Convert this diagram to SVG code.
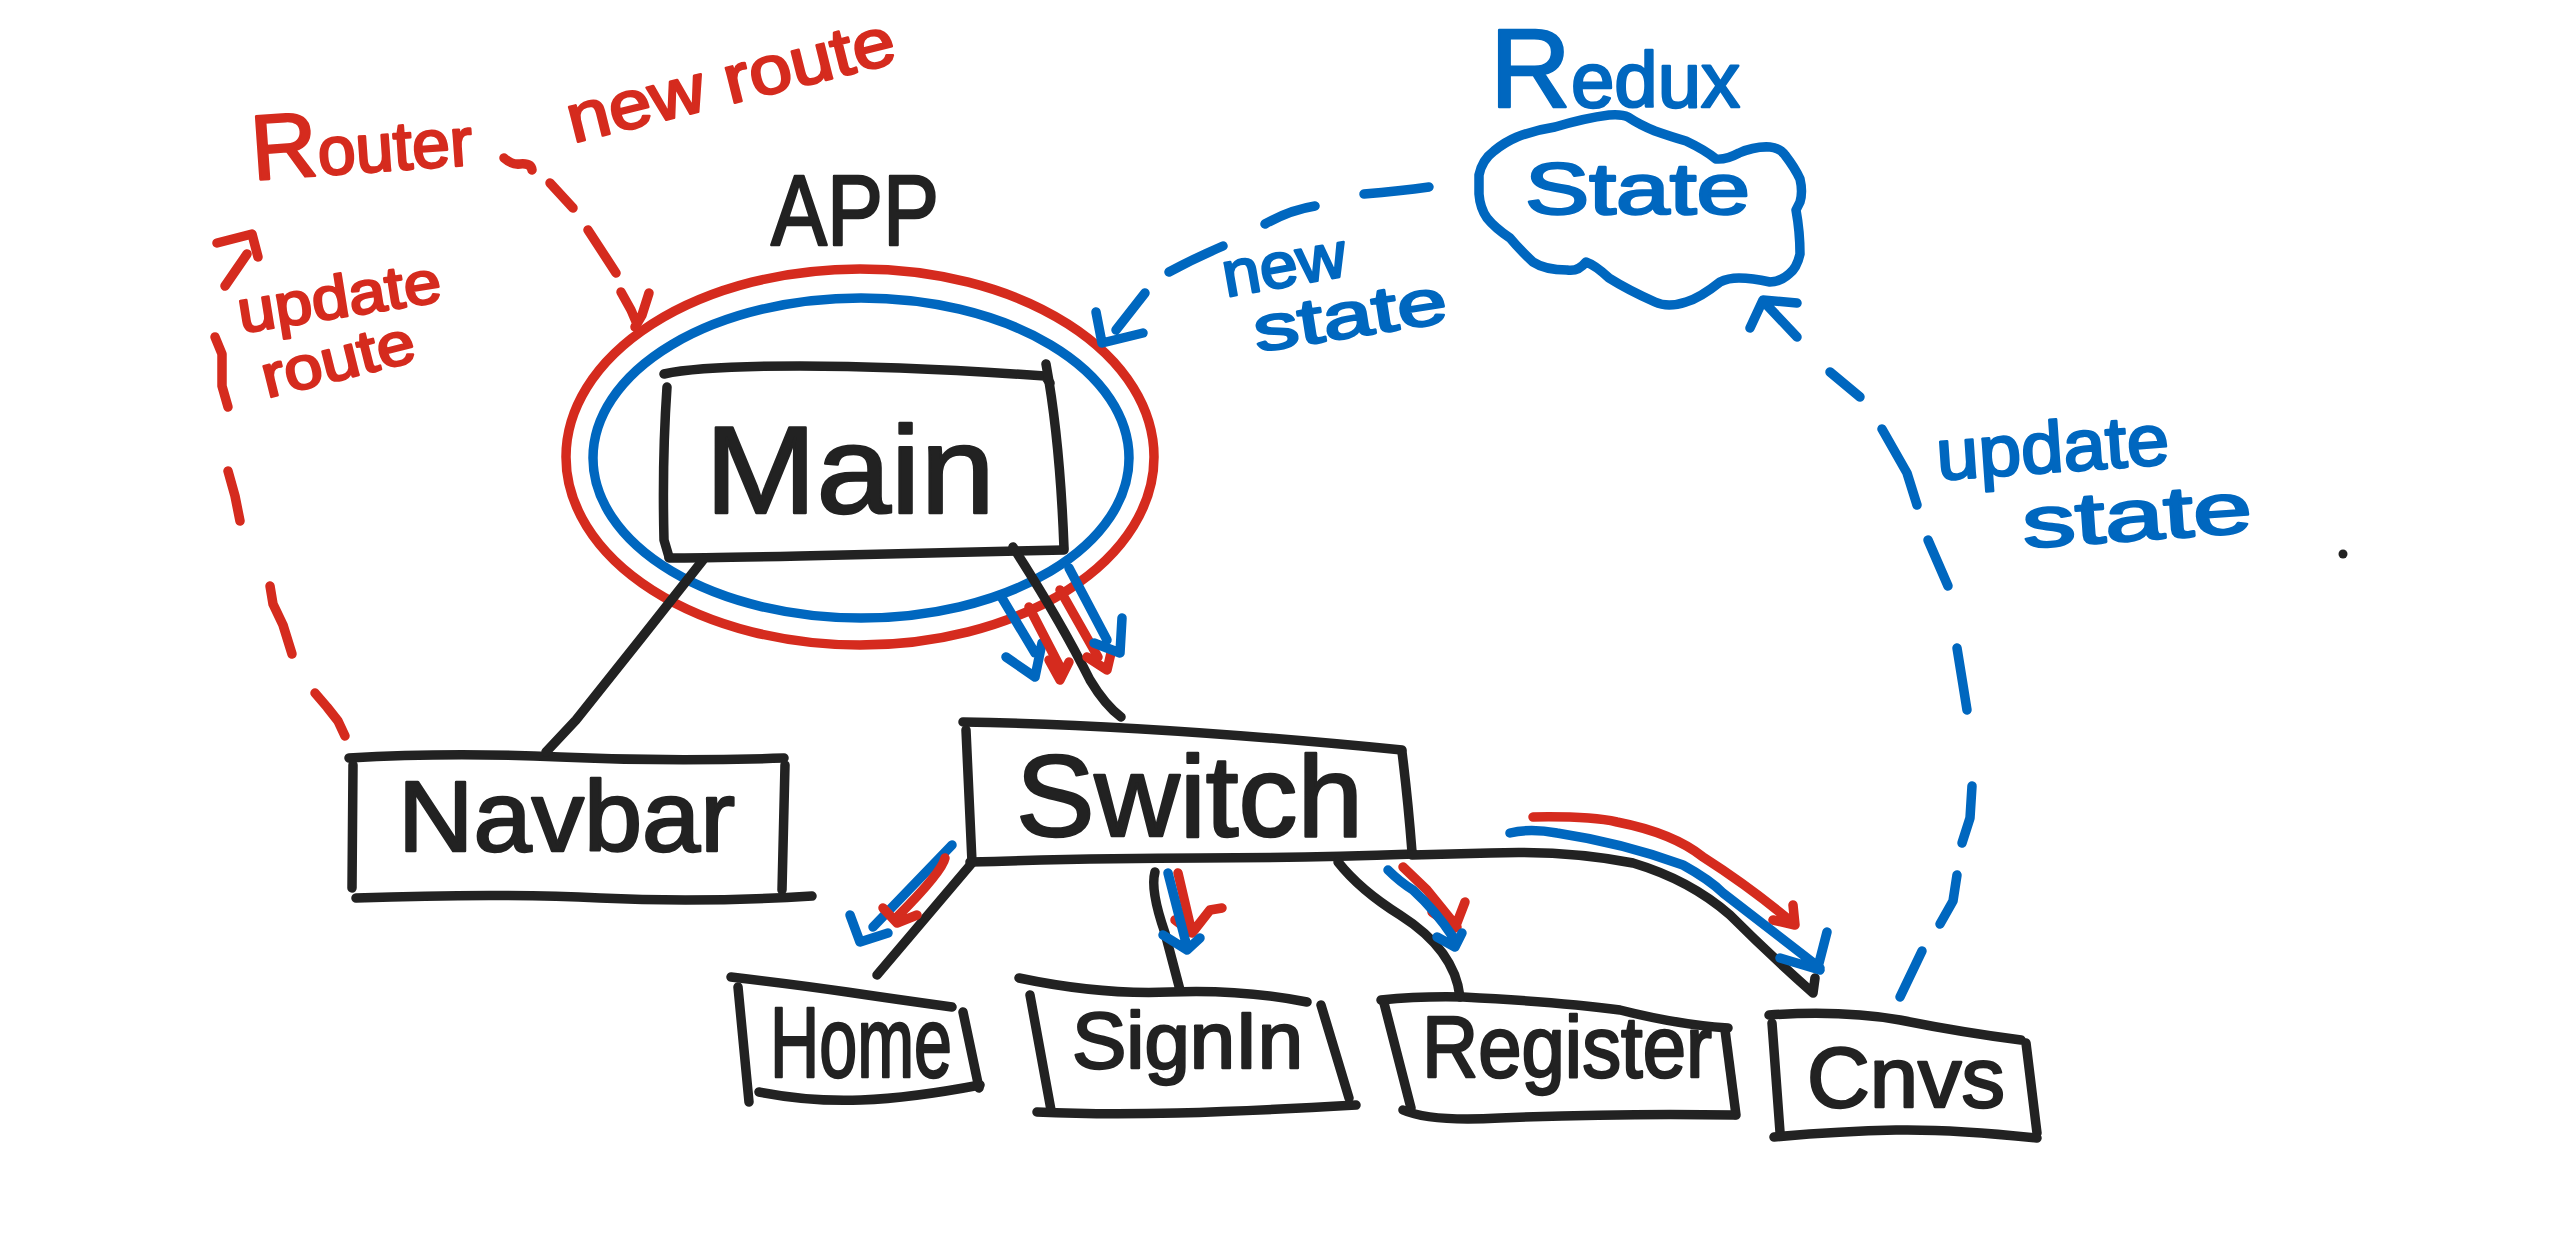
<svg xmlns="http://www.w3.org/2000/svg" width="2560" height="1246" viewBox="0 0 2560 1246">
<style>
.s{fill:none;stroke-width:9.5;stroke-linecap:round;stroke-linejoin:round}
.k{stroke:#222}
.r{stroke:#d52b1e}
.b{stroke:#0067bf}
.t{font-family:"Liberation Sans",Arial,sans-serif;stroke-width:2.5;stroke-linejoin:round}
.tk{fill:#222;stroke:#222}
.tr{fill:#d52b1e;stroke:#d52b1e}
.tb{fill:#0067bf;stroke:#0067bf}
</style>
<rect width="2560" height="1246" fill="#fff"/>

<g id="app">
  <ellipse class="s r" cx="860" cy="457" rx="294" ry="188"/>
  <ellipse class="s b" cx="861" cy="458" rx="268" ry="160"/>
  <text class="t tk" x="771" y="245" font-size="100" textLength="168" lengthAdjust="spacingAndGlyphs">APP</text>
</g>

<g id="main">
  <path class="s k" d="M664,374 Q700,366 800,366 T1045,376 L1050,383"/>
  <path class="s k" d="M1046,364 Q1060,440 1064,548"/>
  <path class="s k" d="M1064,550 Q900,554 800,556 T669,558"/>
  <path class="s k" d="M667,387 Q662,460 664,540 L669,557"/>
  <text class="t tk" x="705" y="513" font-size="125" textLength="290" lengthAdjust="spacingAndGlyphs">Main</text>
</g>

<g id="navbar">
  <path class="s k" d="M349,758 Q450,752 560,757 T784,758"/>
  <path class="s k" d="M353,765 L352,888"/>
  <path class="s k" d="M785,765 L782,890"/>
  <path class="s k" d="M356,898 Q500,893 600,898 T812,896"/>
  <text class="t tk" x="398" y="851" font-size="100" textLength="337" lengthAdjust="spacingAndGlyphs">Navbar</text>
</g>

<g id="switch">
  <path class="s k" d="M963,722 C1100,724 1250,735 1402,750"/>
  <path class="s k" d="M966,730 L972,862"/>
  <path class="s k" d="M1402,752 Q1408,800 1412,852"/>
  <path class="s k" d="M970,862 Q1100,858 1200,858 T1414,854"/>
  <text class="t tk" x="1016" y="836" font-size="115" textLength="347" lengthAdjust="spacingAndGlyphs">Switch</text>
</g>

<g id="home">
  <path class="s k" d="M731,977 Q800,985 847,992 T952,1007"/>
  <path class="s k" d="M738,987 L749,1102"/>
  <path class="s k" d="M963,1012 L979,1088"/>
  <path class="s k" d="M759,1092 Q810,1102 861,1100 T980,1085"/>
  <text class="t tk" x="770" y="1077" font-size="100" textLength="182" lengthAdjust="spacingAndGlyphs">Home</text>
</g>

<g id="signin">
  <path class="s k" d="M1019,978 Q1100,995 1170,992 T1307,1002"/>
  <path class="s k" d="M1030,995 L1051,1110"/>
  <path class="s k" d="M1321,1005 L1349,1098"/>
  <path class="s k" d="M1037,1112 Q1100,1115 1177,1113 T1356,1105"/>
  <text class="t tk" x="1072" y="1068" font-size="80" textLength="231" lengthAdjust="spacingAndGlyphs">SignIn</text>
</g>

<g id="register">
  <path class="s k" d="M1381,1000 Q1420,996 1463,997 Q1560,1002 1620,1010 Q1680,1025 1728,1028"/>
  <path class="s k" d="M1384,1003 L1411,1108"/>
  <path class="s k" d="M1725,1030 L1736,1115"/>
  <path class="s k" d="M1403,1110 Q1430,1122 1500,1118 Q1625,1113 1734,1115"/>
  <text class="t tk" x="1422" y="1077" font-size="88" textLength="290" lengthAdjust="spacingAndGlyphs">Register</text>
</g>

<g id="canvas">
  <path class="s k" d="M1769,1015 Q1842,1010 1900,1020 Q1960,1032 2021,1040"/>
  <path class="s k" d="M1772,1023 L1780,1132"/>
  <path class="s k" d="M2026,1043 L2037,1133"/>
  <path class="s k" d="M1774,1137 Q1840,1131 1896,1130 T2037,1138"/>
  <text class="t tk" x="1807" y="1107" font-size="86" textLength="198" lengthAdjust="spacingAndGlyphs">Cnvs</text>
</g>

<g id="redux">
  <path class="s b" d="M1555,127 Q1585,118 1609,115 Q1622,114 1628,117 Q1640,125 1655,131 Q1672,137 1686,141 Q1705,150 1716,159 Q1726,160 1739,153 Q1755,146 1770,147 Q1780,148 1785,155 Q1795,168 1800,179 Q1803,192 1800,202 L1796,210 Q1800,232 1800,254 Q1797,268 1789,274 Q1780,282 1770,282 Q1752,278 1739,278 Q1728,278 1720,282 Q1700,298 1686,302 Q1668,308 1655,302 Q1628,290 1609,278 Q1595,265 1586,262 Q1578,272 1567,270 Q1545,270 1533,262 Q1520,250 1510,238 Q1495,228 1487,218 Q1480,208 1479,194 L1479,175 Q1482,160 1494,151 Q1505,142 1517,137 Q1535,130 1555,127 Z"/>
  <text class="t tb" x="1490" y="107" font-size="78"><tspan font-size="112">R</tspan>edux</text>
  <text class="t tb" x="1525" y="214" font-size="72" textLength="225" lengthAdjust="spacingAndGlyphs">State</text>
</g>

<g id="labels">
  <text class="t tr" x="253" y="180" font-size="68" transform="rotate(-4 253 180)"><tspan font-size="92">R</tspan>outer</text>
  <text class="t tr" x="573" y="143" font-size="68" textLength="336" lengthAdjust="spacingAndGlyphs" transform="rotate(-14 573 143)">new route</text>
  <text class="t tr" x="241" y="333" font-size="60" textLength="205" lengthAdjust="spacingAndGlyphs" transform="rotate(-9 241 333)">update</text>
  <text class="t tr" x="267" y="398" font-size="60" textLength="156" lengthAdjust="spacingAndGlyphs" transform="rotate(-14 267 398)">route</text>
  <text class="t tb" x="1226" y="297" font-size="64" textLength="125" lengthAdjust="spacingAndGlyphs" transform="rotate(-10 1226 297)">new</text>
  <text class="t tb" x="1257" y="352" font-size="64" textLength="195" lengthAdjust="spacingAndGlyphs" transform="rotate(-9 1257 352)">state</text>
  <text class="t tb" x="1938" y="480" font-size="72" textLength="233" lengthAdjust="spacingAndGlyphs" transform="rotate(-4 1938 480)">update</text>
  <text class="t tb" x="2024" y="548" font-size="72" textLength="230" lengthAdjust="spacingAndGlyphs" transform="rotate(-4 2024 548)">state</text>
  <circle cx="2343" cy="554" r="4.5" fill="#222"/>
</g>

<g id="connectors">
  <path class="s k" d="M703,560 Q640,640 576,720 L546,752"/>
  <path class="s k" d="M1013,547 Q1060,620 1090,680 Q1105,705 1121,717"/>
  <path class="s k" d="M972,863 L877,975"/>
  <path class="s k" d="M1155,872 Q1150,890 1165,933 L1180,990"/>
  <path class="s k" d="M1338,862 Q1360,890 1400,915 Q1455,950 1460,997"/>
  <path class="s k" d="M1412,855 L1490,853 Q1567,850 1633,863 Q1690,880 1730,915 Q1770,955 1813,993 L1815,978"/>

  <path class="s b" d="M1002,598 L1035,653 M1006,657 L1035,677 L1042,643"/>
  <path class="s r" d="M1029,607 L1060,667 M1049,660 L1060,680 L1069,662"/>
  <path class="s r" d="M1060,590 L1098,657 M1087,657 L1107,670 L1111,653"/>
  <path class="s b" d="M1069,568 L1107,640 M1094,643 L1120,653 L1122,618"/>

  <path class="s b" d="M952,845 L873,927 M850,915 L860,942 L888,933"/>
  <path class="s r" d="M945,858 Q942,872 897,917 M883,908 L897,923 L917,915"/>

  <path class="s r" d="M1178,873 L1192,933 M1175,920 L1192,933 L1210,910 L1222,908"/>
  <path class="s b" d="M1168,873 L1187,947 M1163,935 L1187,950 L1200,938"/>

  <path class="s r" d="M1403,867 L1427,890 L1457,927 M1432,912 L1455,928 L1465,902"/>
  <path class="s b" d="M1388,870 Q1400,882 1413,890 Q1435,910 1453,937 M1437,937 L1455,947 L1462,933"/>

  <path class="s r" d="M1533,817 Q1590,816 1617,822 Q1673,833 1703,857 Q1750,887 1793,923 M1793,905 L1795,925 L1773,920"/>
  <path class="s b" d="M1510,833 Q1530,828 1557,833 Q1623,843 1683,865 Q1710,880 1723,893 L1820,968 M1780,958 L1820,970 M1827,932 L1818,967"/>

  <path class="s r" d="M504,158 Q512,165 520,164 Q531,163 532,170"/>
  <path class="s r" d="M550,183 L573,208"/>
  <path class="s r" d="M588,230 L603,253 L616,273"/>
  <path class="s r" d="M621,292 L631,310 L637,324 M649,293 L642,315 L635,327"/>

  <path class="s r" d="M345,736 L338,721 L327,707 L315,693"/>
  <path class="s r" d="M292,654 L283,625 L273,604 L270,586"/>
  <path class="s r" d="M240,521 L235,496 L228,471"/>
  <path class="s r" d="M228,407 L222,386 L222,354 L215,337"/>
  <path class="s r" d="M225,286 L247,254 M217,243 L252,234 L258,257"/>

  <path class="s b" d="M1429,187 Q1400,191 1364,194"/>
  <path class="s b" d="M1315,206 Q1290,210 1265,224"/>
  <path class="s b" d="M1223,246 Q1195,258 1169,272"/>
  <path class="s b" d="M1145,293 L1116,330 M1096,312 L1102,343 L1143,333"/>

  <path class="s b" d="M1900,997 L1922,951"/>
  <path class="s b" d="M1940,924 L1953,901 L1957,875"/>
  <path class="s b" d="M1962,843 L1970,818 L1972,786"/>
  <path class="s b" d="M1967,710 L1963,685 L1957,648"/>
  <path class="s b" d="M1948,586 L1928,540"/>
  <path class="s b" d="M1917,505 L1907,473 L1882,429"/>
  <path class="s b" d="M1860,397 L1830,372"/>
  <path class="s b" d="M1797,337 L1763,301 M1797,303 L1763,300 L1750,328"/>
</g>
</svg>
